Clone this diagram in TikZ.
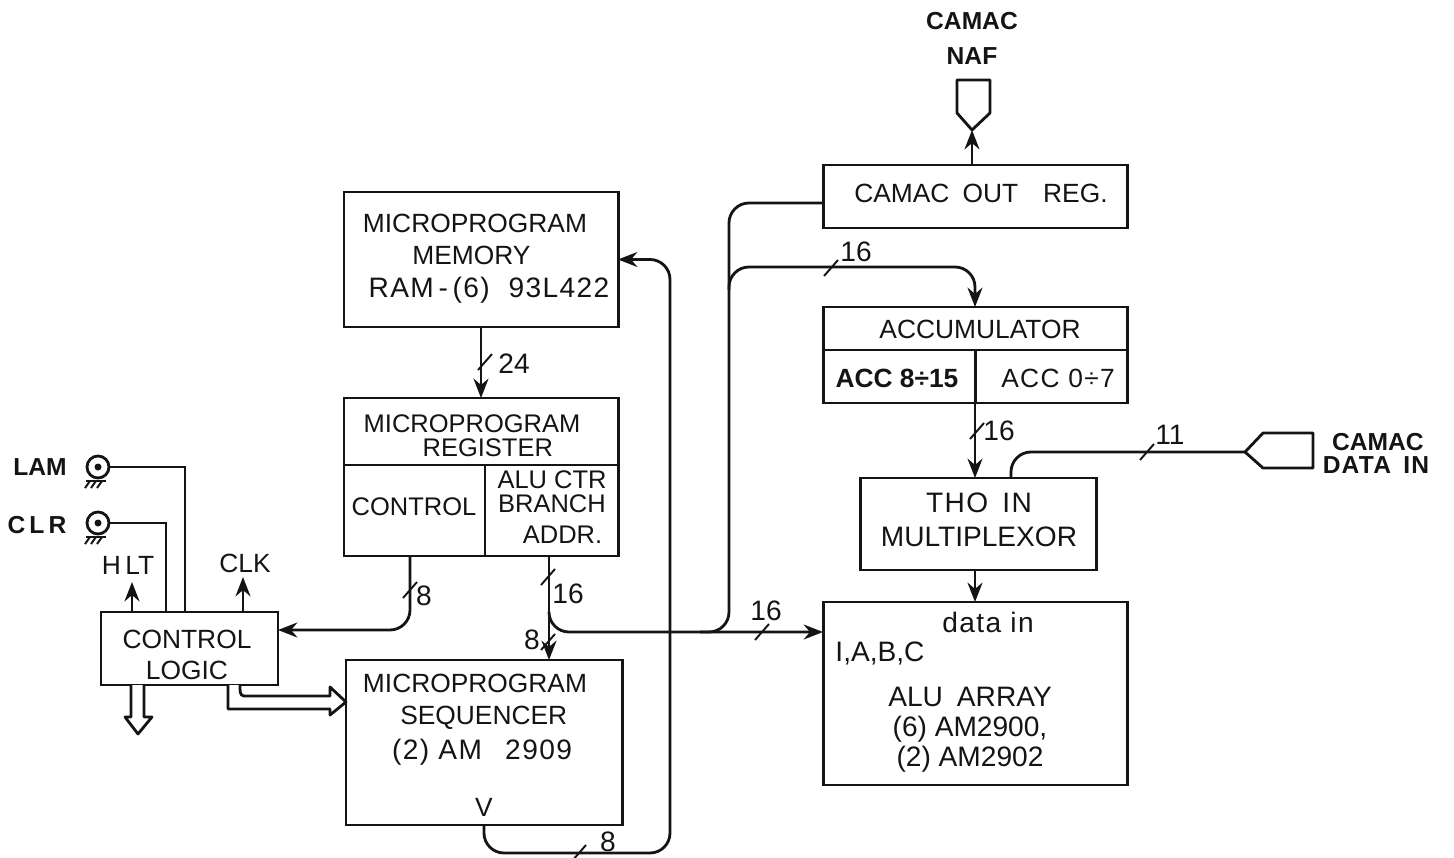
\documentclass[tikz,border=0pt]{standalone}
\usepackage{fontspec}
\setsansfont{Liberation Sans}
\usetikzlibrary{arrows.meta, positioning, calc}
\colorlet{inkmain}{black!92}
\newcommand{\spreadtext}{\addfontfeature{LetterSpace=5}}

\begin{document}
\begin{tikzpicture}[
    x=0.02cm, y=-0.02cm,
    font=\sffamily,
    >=Stealth,
    blockbox/.style 2 args={draw=inkmain, line width=1.7pt, inner sep=0pt, outer sep=0pt,
                            minimum width=#1*0.02cm, minimum height=#2*0.02cm},
    blocktext/.style={font=\sffamily\fontsize{15}{18}\selectfont, text=inkmain,
                      align=center, inner sep=0pt},
    tighttext/.style={blocktext, font=\sffamily\fontsize{14.5}{13.5}\selectfont},
    pinlabel/.style={font=\sffamily\bfseries\fontsize{14}{18}\selectfont, text=inkmain,
                     inner sep=0pt, align=center},
    buswidth/.style={font=\sffamily\fontsize{16}{18}\selectfont, text=inkmain, inner sep=0pt},
    link/.style={draw=inkmain, line width=1.6pt, rounded corners=0.4cm,
                 >={Stealth[length=11pt, width=8.5pt]}},
    tick/.style={draw=inkmain, line width=1.1pt},
    jack/.style={circle, draw=inkmain, line width=1.6pt, minimum size=0.44cm,
                 inner sep=0pt, outer sep=0pt},
    bigarrow/.style={draw=inkmain, line width=1.6pt, fill=white, line join=round},
]

\useasboundingbox (0,0) rectangle (1454,858);

% ── Bus tick macro: #1 x, #2 y ──
\newcommand{\bustick}[2]{
    \draw[tick] (#1-7,#2+8) -- (#1+7,#2-8);
}

% ── Jack macro: #1 name, #2 x, #3 y ──
\newcommand{\jackpin}[3]{
    \node[jack] (#1) at (#2,#3) {};
    \fill[inkmain] (#2,#3) circle (0.07cm);
    \draw[tick] (#2-12,#3+14) -- (#2+8,#3+14);
    \draw[tick] (#2-8,#3+14) -- (#2-13,#3+21);
    \draw[tick] (#2-2,#3+14) -- (#2-7,#3+21);
    \draw[tick] (#2+4,#3+14) -- (#2-1,#3+21);
}

% ════════════════════════════════════════════════════════════
% LEFT COLUMN: microprogram blocks
% ════════════════════════════════════════════════════════════
\node[blockbox={274}{135}] (mem) at (481,259.5) {};
\node[blocktext] (memtext) at (489,259)
    {\hspace*{-16pt}MICROPROGRAM\\\hspace*{-20pt}MEMORY\\[1pt]{\spreadtext\fontsize{16}{18}\selectfont RAM\,-\,(6)\enspace\,93L422}};

\node[blockbox={274}{67}] (regtop) at (481,431.5) {};
\node[tighttext] (regtext) at (472,436) {MICROPROGRAM\\\hspace*{18pt}REGISTER};
\node[blockbox={141}{91}, anchor=north west] (regctl) at (344,465) {};
\node[tighttext] (ctltext) at (414,507) {CONTROL};
\node[blockbox={133}{91}, anchor=north west] (regalu) at (485,465) {};
\node[tighttext] (alutext) at (552,507)
    {ALU CTR\\BRANCH\\[4pt]\hspace*{12pt}ADDR.};

\node[blockbox={276}{165}] (seq) at (484,742.5) {};
\node[blocktext] (seqtext) at (482,720)
    {\hspace*{-8pt}MICROPROGRAM\\\hspace*{2pt}SEQUENCER\\[2pt]{\spreadtext\fontsize{16}{18}\selectfont (2) AM\enspace\ 2909}};
\node[blocktext] (seqv) at (484,807) {V};

\node[blockbox={177}{73}] (ctrl) at (189.5,648.5) {};
\node[blocktext] (ctrltext) at (187,655) {CONTROL\\LOGIC};

% ════════════════════════════════════════════════════════════
% RIGHT COLUMN: CAMAC and ALU blocks
% ════════════════════════════════════════════════════════════
\node[blockbox={304}{63}] (outreg) at (975,196.5) {};
\node[blocktext] (outtext) at (981,193) {CAMAC\enspace OUT\enspace\ \,REG.};

\node[blockbox={304}{43}] (acc) at (975,328.5) {};
\node[blocktext, font=\sffamily\fontsize{15}{18}\selectfont] (acctext) at (980,329) {ACCUMULATOR};
\node[blockbox={152}{53}, anchor=north west] (acchi) at (823,350) {};
\node[blocktext, font=\sffamily\bfseries\fontsize{15}{18}\selectfont] (hitext) at (897,378) {ACC 8÷15};
\node[blockbox={152}{53}, anchor=north west] (acclo) at (975,350) {};
\node[blocktext, font=\sffamily\fontsize{15}{18}\selectfont] (lotext) at (1058,378) {{\spreadtext ACC\,\,0÷7}};

\node[blockbox={236}{92}] (mux) at (978,524) {};
\node[blocktext, font=\sffamily\fontsize{16}{18}\selectfont] (muxtext) at (979,520) {{\spreadtext THO\enspace IN}\\[1pt]MULTIPLEXOR};

\node[blockbox={304}{183}] (alu) at (975,693.5) {};
\node[blocktext, font=\sffamily\fontsize{16}{18}\selectfont] (aludata) at (988,622) {{\spreadtext data in}};
\node[blocktext, font=\sffamily\fontsize{16}{18}\selectfont] (aluabc) at (880,653) {I,A,B,C};
\node[blocktext, font=\sffamily\fontsize{16}{18}\selectfont] (alutitle) at (970,730)
    {ALU\enspace ARRAY\\[-1pt](6) AM2900,\\[-1pt](2) AM2902};

% ── Outside pins ──
\node[pinlabel] (naf) at (972,38) {CAMAC\\[2pt]NAF};
\node[pinlabel] (datain) at (1376,453) {\hspace*{2pt}CAMAC\\[-5pt]{\spreadtext DATA\enspace IN}};
\node[pinlabel] (lamlabel) at (40,467) {LAM};
\node[pinlabel] (clrlabel) at (37,525) {C\,L\,R};
\node[pinlabel, font=\sffamily\fontsize{15}{18}\selectfont] (hlt) at (128,565) {H\,LT};
\node[pinlabel, font=\sffamily\fontsize{15}{18}\selectfont] (clk) at (245,563) {CLK};
\jackpin{lam}{98}{467}
\jackpin{clr}{98}{523}

\coordinate (naftip) at (972,130);
\coordinate (dintip) at (1245,452);
\draw[bigarrow] (naftip) -- (957,113) -- (957,80) -- (990,80) -- (990,113) -- cycle;
\draw[bigarrow] (dintip) -- (1263,433) -- (1313,433) -- (1313,468) -- (1263,468) -- cycle;

% ── Connectors ──
\coordinate (hltout) at (132,582);
\coordinate (clkout) at (243,577);
\coordinate (altap) at (549,556);
\coordinate (seqin) at (549,660);
\coordinate (aluin) at (823,632);
\coordinate (outtap) at (823,203);
\coordinate (muxdin) at (1011,478);
\coordinate (ctlbus) at (410,556);
\coordinate (ctlin) at (278,630);

\draw[link,->] (mem.south) -- (regtop.north);
\draw[link,->] (ctlbus) |- (ctlin);
\draw[link,->] (altap) -- (seqin);
\draw[link,->] (549,612) |- (aluin);
\draw[link,->] (seq.south) -- (484,853) -- (670,853) -- (670,259.5) -- (mem.east);
\draw[link] (outtap) -- (729,203) -- (729,632) -- (700,632);
\draw[link,->] (729,290) -- (729,267) -- (975,267) -- (acc.north);
\draw[link,->] (outreg.north -| naftip) -- (naftip);
\draw[link,->] (acchi.south east) -- (mux.north -| acclo.south west);
\draw[link,->] (mux.south -| alu.north) -- (alu.north);
\draw[link] (muxdin) -- (1011,452) -- (dintip);

\draw[link, rounded corners=0pt] (lam.east) -- (185,467) -- (185,612);
\draw[link, rounded corners=0pt] (clr.east) -- (166,523) -- (166,612);
\draw[link,->] (132,612) -- (hltout);
\draw[link,->] (243,612) -- (clkout);

% ── Hollow bus arrows ──
\draw[bigarrow] (131,685) -- (131,717) -- (125,717) -- (138,734) -- (152,717) -- (144,717) -- (144,685);
\draw[bigarrow] (228,685) -- (228,709) -- (330,709) -- (330,715) -- (346,702) -- (330,687)
    -- (330,696) -- (244,696) to[out=180,in=-90] (240,685);

% ── Bus widths ──
\bustick{485}{362}
\node[buswidth] (w24) at (514,364) {24};
\bustick{410}{590}
\node[buswidth] (w8a) at (424,596) {8};
\bustick{548}{577}
\node[buswidth] (w16a) at (568,594) {16};
\bustick{548}{642}
\node[buswidth] (w8b) at (532,640) {8};
\bustick{762}{632}
\node[buswidth] (w16b) at (766,611) {16};
\bustick{831}{268}
\node[buswidth] (w16c) at (856,252) {16};
\bustick{977}{431}
\node[buswidth] (w16d) at (999,431) {16};
\bustick{1147}{452}
\node[buswidth] (w11) at (1170,435) {11};
\bustick{579}{853}
\node[buswidth] (w8c) at (608,842) {8};

\end{tikzpicture}
\end{document}
